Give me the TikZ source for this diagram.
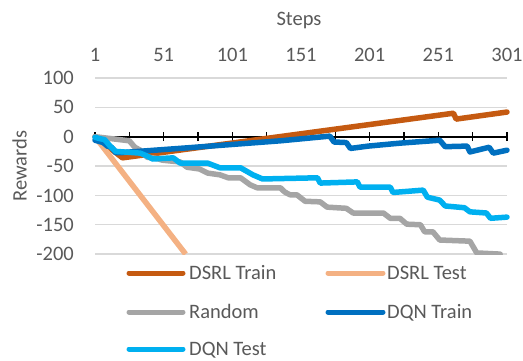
\documentclass[tikz,border=0pt]{standalone}
\usepackage{fontspec}
\setmainfont{Carlito}
\usepackage{xcolor}
\usepackage{tikz}
\usetikzlibrary{positioning}
\definecolor{dsrltrain}{HTML}{C55A11}
\definecolor{dsrltest}{HTML}{F4B183}
\definecolor{randgray}{HTML}{A5A5A5}
\definecolor{dqntrain}{HTML}{0070C0}
\definecolor{dqntest}{HTML}{00B0F0}
\definecolor{labtext}{HTML}{595959}
\definecolor{gridgray}{HTML}{D9D9D9}
\tikzset{
  lbl/.style    = {font=\fontsize{20.5}{24}\selectfont, text=labtext,
                   inner sep=0pt, text height=13.2pt, text depth=0pt},
  gridln/.style = {gridgray, line width=1.3pt},
  axisln/.style = {black, line width=1.6pt},
  series/.style = {line width=5.5pt, line join=round, line cap=round},
  keyln/.style  = {line width=5pt, line cap=round},
}

\begin{document}
\begin{tikzpicture}[x=1pt, y=1pt]
  \useasboundingbox (0,0) rectangle (523,360);

  % ── axis titles ────────────────────────────────────────────────────────────
  \node[lbl]             (xtitle) at (299,341) {Steps};
  \node[lbl, rotate=90]  (ytitle) at (20,194)  {Rewards};

  % ── plot area, data coordinates (step, reward) ─────────────────────────────
  \begin{scope}[shift={(93.63pt,223.3pt)}, x=1.3733pt, y=0.587pt]

    % grid and axis
    \foreach \v in {100,50,-50,-100,-150,-200}
      \draw[gridln] (1,\v) -- (301,\v);
    \draw[axisln] (1,0) -- (301,0);
    \foreach \s in {1,26,...,301}
      \draw[axisln] (\s,0) ++(0,-4.5pt) -- ++(0,9pt);

    % tick labels
    \foreach \s in {1,51,...,301}
      \node[lbl] (xt\s) at (\s,139.2) {\s};
    \foreach \v in {100,50,0,-50,-100,-150,-200}
      \node[lbl, anchor=east] (yt\v) at (-14.3,\v) {\v};

    % series
    \begin{scope}
      \clip (-10,-200) rectangle (320,130);
      \draw[series, dsrltrain] (1,0) -- (21,-36) -- (262,40) -- (264,30) -- (301,42);
      \draw[series, dsrltest, line cap=butt] (1,0) -- (67,-200);
      \draw[series, randgray] (1,0) -- (19,-5) -- (26,-7) -- (30,-18) -- (34,-23)
        -- (39,-35) -- (46,-37) -- (50,-40) -- (63,-43) -- (68,-52) -- (77,-55)
        -- (83,-62) -- (92,-65) -- (98,-70) -- (107,-70) -- (114,-82) -- (119,-87)
        -- (136,-87) -- (139,-94) -- (143,-99) -- (148,-99) -- (154,-110)
        -- (165,-111) -- (170,-120) -- (184,-122) -- (189,-130) -- (211,-130)
        -- (216,-139) -- (223,-139) -- (228,-149) -- (238,-150) -- (241,-162)
        -- (247,-162) -- (252,-176) -- (274,-178) -- (279,-198) -- (296,-200);
      \draw[series, dqntrain] (1,-6) -- (7,-10) -- (10,-16) -- (13,-18) -- (16,-27)
        -- (21,-27) -- (68,-19) -- (136,-7) -- (172,1) -- (175,-9) -- (184,-10)
        -- (187,-20) -- (200,-16) -- (223,-11) -- (252,-6) -- (256,-17)
        -- (272,-16) -- (274,-26) -- (288,-18) -- (291,-28) -- (301,-23);
      \draw[series, dqntest] (1,-1) -- (4,-3) -- (8,-5) -- (12,-16) -- (16,-25)
        -- (34,-28) -- (39,-33) -- (43,-38) -- (58,-36) -- (63,-45) -- (83,-45)
        -- (92,-53) -- (107,-53) -- (116,-65) -- (123,-72) -- (163,-70)
        -- (165,-79) -- (192,-77) -- (194,-86) -- (216,-86) -- (218,-95)
        -- (240,-91) -- (243,-103) -- (252,-108) -- (256,-118) -- (270,-121)
        -- (274,-128) -- (286,-130) -- (289,-139) -- (301,-137);
    \end{scope}
  \end{scope}

  % ── legend ─────────────────────────────────────────────────────────────────
  \node[lbl, anchor=west] (kdsrltrain) at (189,87) {DSRL Train};
  \node[lbl, anchor=west] (kdsrltest)  at (387,87) {DSRL Test};
  \node[lbl, anchor=west] (krandom)    at (189,48) {Random};
  \node[lbl, anchor=west] (kdqntrain)  at (387,48) {DQN Train};
  \node[lbl, anchor=west] (kdqntest)   at (189,11) {DQN Test};
  \draw[keyln, dsrltrain] (kdsrltrain.west) ++(-60,0) -- ++(54,0);
  \draw[keyln, dsrltest]  (kdsrltest.west)  ++(-59,0) -- ++(55,0);
  \draw[keyln, randgray]  (krandom.west)    ++(-60,0) -- ++(54,0);
  \draw[keyln, dqntrain]  (kdqntrain.west)  ++(-59,0) -- ++(55,0);
  \draw[keyln, dqntest]   (kdqntest.west)   ++(-60,0) -- ++(54,0);

\end{tikzpicture}
\end{document}
